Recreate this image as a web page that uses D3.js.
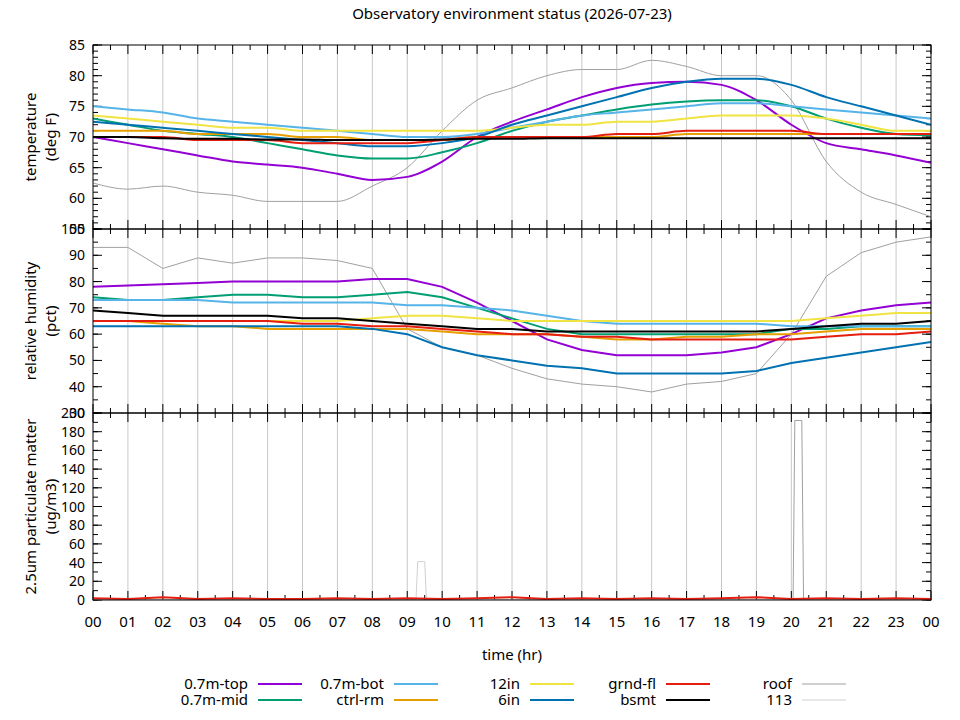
<!DOCTYPE html>
<html lang="en">
<head>
<meta charset="UTF-8">
<title>Observatory environment status</title>
<style>
  body { margin: 0; background: #fff; font-family: "Noto Sans", sans-serif; }
  text { font-family: "Noto Sans", sans-serif; fill: #000; }
</style>
</head>
<body>
<svg id="chart" width="960" height="720"></svg>
<script src="https://d3js.org/d3.v7.min.js"></script>
<script>
// hourly readings, 00 .. 24
const hours = d3.range(0, 25);
const names = ["0.7m-top", "0.7m-mid", "0.7m-bot", "ctrl-rm", "12in", "6in", "grnd-fl", "bsmt", "roof", "113"];
const colors = ["#9400d3", "#009e73", "#56b4e9", "#e69f00", "#f0e442", "#0072b2", "#e51e10", "#000000", "#a0a0a0", "#d0d0d0"];

const tempTop = [70,69,68,67,66,65.5,65,64,63,63.5,66,70,72.5,74.5,76.5,78,78.8,79,78.5,76,72,69,68,67,65.8];
const tempMid = [73,72,71,70.5,70,69,68,67,66.5,66.5,67.5,69,71,72.5,73.5,74.5,75.3,75.8,76,76,75,73,71.5,70.5,70.3];
const tempBot = [75,74.5,74,73,72.5,72,71.5,71,70.5,70,70,70.5,71.5,72.5,73.5,74,74.5,75,75.5,75.5,75,74.5,74,73.5,73];
const tempCtrl = [71,71,71,70.5,70.5,70.5,70,70,69.5,69.5,69.5,70,70,70,70,70,70,70.5,70.5,70.5,70.5,70.5,70.5,70.5,70.5];
const temp12 = [73.5,73,72.5,72,71.5,71.5,71,71,71,71,71,71,71.5,72,72,72.5,72.5,73,73.5,73.5,73.5,73,72,71,71];
const temp6 = [72.5,72,71.5,71,70.5,70,69.5,69,68.5,68.5,69,70,72,73.5,75,76.5,78,79,79.5,79.5,78.5,76.5,75,73.5,72];
const tempGrnd = [70,70,70,69.5,69.5,69.5,69,69,69,69,69.5,70,70,70,70,70.5,70.5,71,71,71,71,70.5,70.5,70.5,70.5];
const tempBsmt = [70,70,69.8,69.7,69.7,69.6,69.6,69.5,69.5,69.5,69.6,69.7,69.7,69.8,69.8,69.8,69.8,69.8,69.8,69.8,69.8,69.8,69.8,69.8,69.8];
const tempRoof = [62.5,61.5,62,61,60.5,59.5,59.5,59.5,62,65,71,76,78,80,81,81,82.5,81.5,80,80,76,66,61,59,57];

const humTop = [78,78.5,79,79.5,80,80,80,80,81,81,78,72,65,58,54,52,52,52,53,55,60,66,69,71,72];
const humMid = [74,73,73,74,75,75,74,74,75,76,74,70,66,62,60,60,60,60,60,60,62,62,63,63,63];
const humBot = [73,73,73,73,72,72,72,72,72,71,71,70,69,67,65,64,64,64,64,64,63,63,63,63,63];
const humCtrl = [65,65,64,63,63,62,62,62,62,62,61,60,60,60,59,58,58,59,59,60,60,61,62,62,62];
const hum12 = [65,65,65,65,65,65,65,65,66,67,67,66,65,65,65,65,65,65,65,65,65,66,67,68,68];
const hum6 = [63,63,63,63,63,63,63,63,62,60,55,52,50,48,47,45,45,45,45,46,49,51,53,55,57];
const humGrnd = [65,65,65,65,65,65,64,64,63,63,62,61,60,60,59,59,58,58,58,58,58,59,60,60,61];
const humBsmt = [69,68,67,67,67,67,66,66,65,64,63,62,62,61,61,61,61,61,61,61,62,63,64,64,65];
const humRoof = [93,93,85,89,87,89,89,88,85,62,55,52,47,43,41,40,38,41,42,45,60,82,91,95,97];

const pmGrnd = [2,1,3,1,2,1,1,2,1,2,1,2,3,1,2,1,2,1,2,3,1,2,1,2,1];
const pmRoofX = [0,20.05,20.1,20.3,20.35,24];
const pmRoof = [0,0,192,192,0,0];
const pm113X = [0,9.25,9.3,9.5,9.55,24];
const pm113 = [0,0,41,41,0,0];

const tempSeries = [tempTop, tempMid, tempBot, tempCtrl, temp12, temp6, tempGrnd, tempBsmt, tempRoof];
const humSeries = [humTop, humMid, humBot, humCtrl, hum12, hum6, humGrnd, humBsmt, humRoof];

const svg = d3.select("#chart");
const left = 93, right = 931;
const x = d3.scaleLinear().domain([0, 24]).range([left, right]);

const panels = [
  { top: 45, bottom: 229, domain: [55, 85], step: 5, minor: 1, label: ["temperature", "(deg F)"] },
  { top: 229, bottom: 413, domain: [30, 100], step: 10, minor: 5, label: ["relative humidity", "(pct)"] },
  { top: 413, bottom: 600, domain: [0, 200], step: 20, minor: 10, label: ["2.5um particulate matter", "(ug/m3)"] }
];

panels.forEach((p, i) => {
  p.y = d3.scaleLinear().domain(p.domain).range([p.bottom, p.top]);
  const g = svg.append("g");
  // vertical grid
  g.selectAll("line.grid").data(d3.range(1, 24)).join("line")
    .attr("x1", d => x(d)).attr("x2", d => x(d))
    .attr("y1", p.top).attr("y2", p.bottom)
    .attr("stroke", "#c8c8c8").attr("stroke-width", 1);
  // y ticks
  const ticks = d3.range(p.domain[0], p.domain[1] + 0.01, p.step);
  const minors = d3.range(p.domain[0], p.domain[1] + 0.01, p.minor);
  g.selectAll("line.mn").data(minors).join("line")
    .attr("x1", left).attr("x2", left + 5).attr("y1", d => p.y(d)).attr("y2", d => p.y(d))
    .attr("stroke", "#000");
  g.selectAll("line.mnr").data(minors).join("line")
    .attr("x1", right).attr("x2", right - 5).attr("y1", d => p.y(d)).attr("y2", d => p.y(d))
    .attr("stroke", "#000");
  g.selectAll("line.mj").data(ticks).join("line")
    .attr("x1", left).attr("x2", left + 9).attr("y1", d => p.y(d)).attr("y2", d => p.y(d))
    .attr("stroke", "#000");
  g.selectAll("line.mjr").data(ticks).join("line")
    .attr("x1", right).attr("x2", right - 9).attr("y1", d => p.y(d)).attr("y2", d => p.y(d))
    .attr("stroke", "#000");
  g.selectAll("text.tk").data(ticks).join("text")
    .attr("x", left - 8).attr("y", d => p.y(d) + 5)
    .attr("text-anchor", "end").attr("font-size", 14).text(d => d);
  // x ticks (top and bottom of panel)
  g.selectAll("line.xt").data(d3.range(0, 25)).join("line")
    .attr("x1", d => x(d)).attr("x2", d => x(d)).attr("y1", p.bottom).attr("y2", p.bottom - 9).attr("stroke", "#000");
  g.selectAll("line.xtt").data(d3.range(0, 25)).join("line")
    .attr("x1", d => x(d)).attr("x2", d => x(d)).attr("y1", p.top).attr("y2", p.top + 9).attr("stroke", "#000");
  g.selectAll("line.xm").data(d3.range(0.5, 24, 1)).join("line")
    .attr("x1", d => x(d)).attr("x2", d => x(d)).attr("y1", p.bottom).attr("y2", p.bottom - 5).attr("stroke", "#000");
  g.selectAll("line.xmt").data(d3.range(0.5, 24, 1)).join("line")
    .attr("x1", d => x(d)).attr("x2", d => x(d)).attr("y1", p.top).attr("y2", p.top + 5).attr("stroke", "#000");
  // y label
  const cy = (p.top + p.bottom) / 2;
  const lab = g.append("text").attr("transform", `translate(36,${cy}) rotate(-90)`)
    .attr("text-anchor", "middle").attr("font-size", 15);
  lab.append("tspan").attr("x", 0).attr("dy", 0).text(p.label[0]);
  lab.append("tspan").attr("x", 0).attr("dy", 20).text(p.label[1]);
});

const line = (ys, xs, yScale) => d3.line()
  .x((d, i) => x(xs ? xs[i] : hours[i])).y(d => yScale(d))(ys);

const clip = svg.append("defs");
panels.forEach((p, i) => {
  clip.append("clipPath").attr("id", "clip" + i).append("rect")
    .attr("x", left).attr("y", p.top).attr("width", right - left).attr("height", p.bottom - p.top);
});

// roof drawn first (thin, behind)
const tg = svg.append("g").attr("clip-path", "url(#clip0)");
const tOrder = [8, 0, 1, 2, 3, 4, 5, 6, 7];
tOrder.forEach(k => {
  tg.append("path").attr("d", d3.line().curve(d3.curveMonotoneX)
      .x((d, i) => x(hours[i])).y(d => panels[0].y(d))(tempSeries[k]))
    .attr("fill", "none").attr("stroke", colors[k]).attr("stroke-width", k === 8 ? 1 : 2);
});
const hg = svg.append("g").attr("clip-path", "url(#clip1)");
tOrder.forEach(k => {
  hg.append("path").attr("d", line(humSeries[k], null, panels[1].y))
    .attr("fill", "none").attr("stroke", colors[k]).attr("stroke-width", k === 8 ? 1 : 2);
});
const pg = svg.append("g").attr("clip-path", "url(#clip2)");
pg.append("path").attr("d", line(pm113, pm113X, panels[2].y)).attr("fill", "none").attr("stroke", colors[9]).attr("stroke-width", 1);
pg.append("path").attr("d", line(pmRoof, pmRoofX, panels[2].y)).attr("fill", "none").attr("stroke", colors[8]).attr("stroke-width", 1);
pg.append("path").attr("d", line(pmGrnd, null, panels[2].y)).attr("fill", "none").attr("stroke", colors[6]).attr("stroke-width", 2);

// frames
panels.forEach(p => {
  svg.append("rect").attr("x", left).attr("y", p.top).attr("width", right - left).attr("height", p.bottom - p.top)
    .attr("fill", "none").attr("stroke", "#000");
});

// x labels
svg.selectAll("text.xl").data(d3.range(0, 25)).join("text")
  .attr("x", d => x(d)).attr("y", 627).attr("text-anchor", "middle").attr("font-size", 15)
  .text(d => String(d % 24).padStart(2, "0"));
svg.append("text").attr("x", (left + right) / 2).attr("y", 660).attr("text-anchor", "middle").attr("font-size", 15).text("time (hr)");
svg.append("text").attr("x", (left + right) / 2).attr("y", 19).attr("text-anchor", "middle").attr("font-size", 15)
  .text("Observatory environment status (2026-07-23)");

// legend: columns of two
names.forEach((n, k) => {
  const col = Math.floor(k / 2), row = k % 2;
  const lx = 248 + col * 136, ly = 684 + row * 16 + (row ? 0 : 0);
  svg.append("text").attr("x", lx).attr("y", ly + 5).attr("text-anchor", "end").attr("font-size", 15).text(n);
  svg.append("line").attr("x1", lx + 10).attr("x2", lx + 54).attr("y1", ly).attr("y2", ly)
    .attr("stroke", colors[k]).attr("stroke-width", k >= 8 ? 1 : 2);
});
</script>
</body>
</html>
